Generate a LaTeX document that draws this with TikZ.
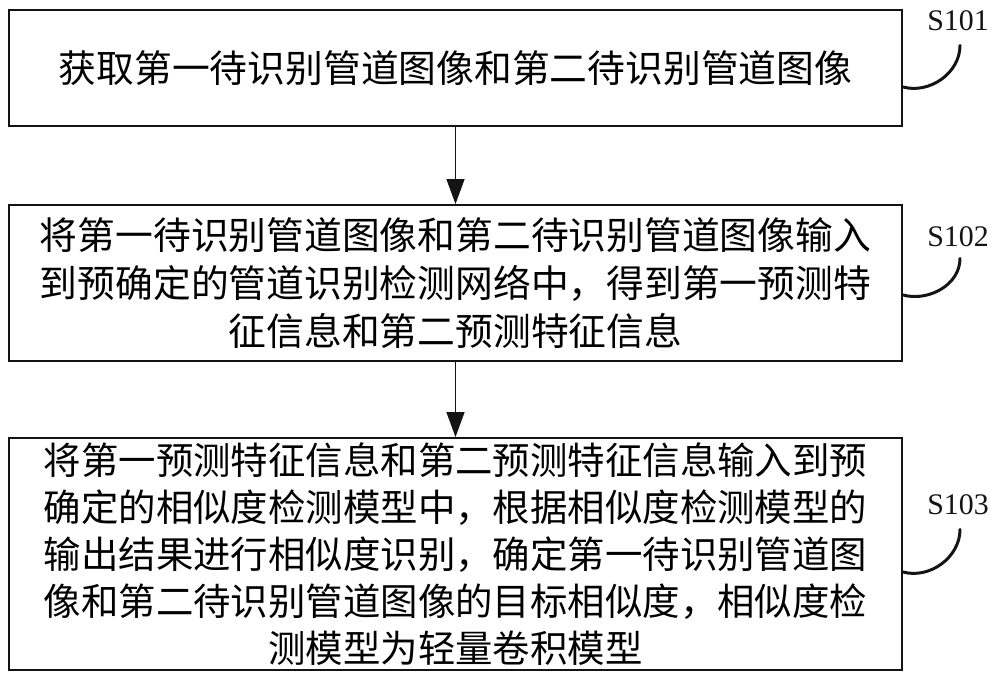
\documentclass[tikz,border=0pt]{standalone}
\usepackage{fontspec}
\setmainfont{Liberation Serif}
\newfontfamily\cjk{Noto Sans CJK SC}
\usepackage{xcolor}
\usepackage{tikz}
\usetikzlibrary{arrows.meta,positioning}
\definecolor{figline}{RGB}{20,20,20}
\tikzset{
  stepbox/.style={draw=figline, line width=1.1pt, fill=white, minimum width=17.86cm, inner sep=0pt, align=center, font=\cjk\fontsize{21.5pt}{27.4pt}\selectfont},
  steplabel/.style={inner sep=0pt, font=\fontsize{17pt}{18pt}\selectfont, text=figline},
  hookline/.style={draw=figline, line width=1.7pt, line cap=round},
  line/.style={-{Triangle[length=5mm,width=3.6mm]}, draw=figline, line width=0.8pt}
}
\begin{document}
\begin{tikzpicture}[x=1cm,y=1cm]
  \useasboundingbox (0,0) rectangle (20,-13.62);

  \node[stepbox, minimum height=2.32cm] (s1) at (9.11,-1.36) {获取第一待识别管道图像和第二待识别管道图像};
  \node[stepbox, minimum height=3.12cm] (s2) at (9.11,-5.66) {将第一待识别管道图像和第二待识别管道图像输入\\到预确定的管道识别检测网络中，得到第一预测特\\征信息和第二预测特征信息};
  \node[stepbox, minimum height=4.64cm, font=\cjk\fontsize{21.3pt}{26.8pt}\selectfont] (s3) at (9.11,-11.08) {将第一预测特征信息和第二预测特征信息输入到预\\确定的相似度检测模型中，根据相似度检测模型的\\输出结果进行相似度识别，确定第一待识别管道图\\像和第二待识别管道图像的目标相似度，相似度检\\测模型为轻量卷积模型};

  \node[steplabel] (l1) at (19.16,-0.42) {S101};
  \node[steplabel] (l2) at (19.16,-4.74) {S102};
  \node[steplabel] (l3) at (19.16,-10.10) {S103};

  \draw[line] (s1.south) -- (s2.north);
  \draw[line] (s2.south) -- (s3.north);

  \draw[hookline] ([xshift=0.04cm,yshift=-0.28cm]l1.south) to[out=-90,in=-15] ([yshift=-0.38cm]s1.east);
  \draw[hookline] ([xshift=0.04cm,yshift=-0.22cm]l2.south) to[out=-90,in=-15] ([yshift=-0.24cm]s2.east);
  \draw[hookline] ([xshift=0.04cm,yshift=-0.28cm]l3.south) to[out=-90,in=-15] ([yshift=-0.36cm]s3.east);
\end{tikzpicture}
\end{document}
